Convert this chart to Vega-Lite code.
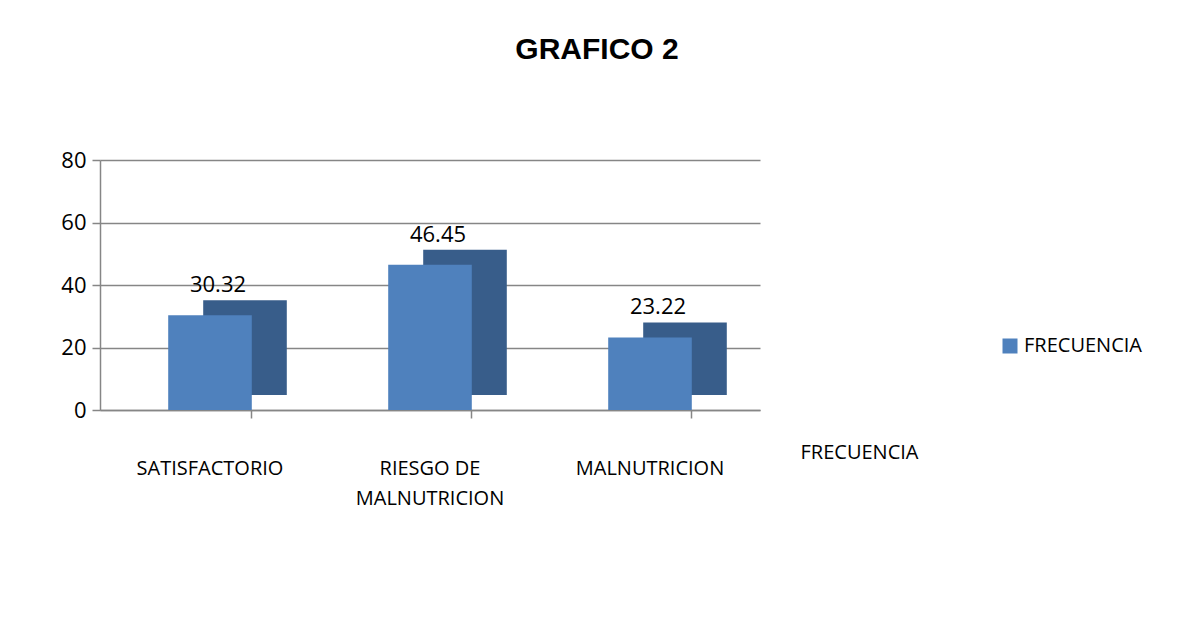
{
  "$schema": "https://vega.github.io/schema/vega-lite/v6.json",
  "autosize": "none",
  "width": 660,
  "height": 250,
  "padding": {"left": 100, "top": 160, "right": 424, "bottom": 211},
  "background": "white",
  "title": {
    "text": "GRAFICO 2",
    "font": "Liberation Sans",
    "fontSize": 30,
    "fontWeight": "bold",
    "color": "#000000",
    "anchor": "middle",
    "dx": 167,
    "offset": 84
  },
  "data": {
    "values": [
      {"categoria": "SATISFACTORIO", "serie": "FRECUENCIA", "valor": 30.32},
      {"categoria": "RIESGO DE MALNUTRICION", "serie": "FRECUENCIA", "valor": 46.45},
      {"categoria": "MALNUTRICION", "serie": "FRECUENCIA", "valor": 23.22}
    ]
  },
  "encoding": {
    "x": {
      "field": "categoria",
      "type": "nominal",
      "sort": null,
      "scale": {"paddingInner": 0.62, "paddingOuter": 0.31},
      "axis": {
        "title": null,
        "labelAngle": 0,
        "labelFont": "Open Sans",
        "labelFontSize": 20,
        "labelColor": "#000000",
        "labelPadding": 40,
        "labelExpr": "datum.label == 'RIESGO DE MALNUTRICION' ? ['RIESGO DE', 'MALNUTRICION'] : datum.label",
        "labelLineHeight": 30,
        "domainColor": "#868686",
        "domainWidth": 1.5,
        "tickColor": "#868686",
        "tickWidth": 1.5,
        "tickSize": 8,
        "bandPosition": 1,
        "grid": false
      }
    }
  },
  "layer": [
    {
      "mark": {"type": "bar", "color": "#385D8A", "xOffset": 35, "yOffset": -15},
      "encoding": {
        "y": {
          "field": "valor",
          "type": "quantitative",
          "scale": {"domain": [0, 80]},
          "axis": {
            "title": null,
            "values": [0, 20, 40, 60, 80],
            "labelFont": "Open Sans",
            "labelFontSize": 22,
            "labelColor": "#000000",
            "labelPadding": 6,
            "domainColor": "#868686",
            "domainWidth": 1.5,
            "tickColor": "#868686",
            "tickWidth": 1.5,
            "tickSize": 8,
            "gridColor": "#868686",
            "gridWidth": 1.5
          }
        }
      }
    },
    {
      "mark": {"type": "bar"},
      "encoding": {
        "y": {"field": "valor", "type": "quantitative", "scale": {"domain": [0, 80]}, "axis": null},
        "color": {
          "field": "serie",
          "type": "nominal",
          "scale": {"range": ["#4F81BD"]},
          "legend": {
            "title": null,
            "orient": "none",
            "legendX": 900,
            "legendY": 176,
            "symbolType": "square",
            "symbolSize": 225,
            "symbolStrokeWidth": 0,
            "labelFont": "Open Sans",
            "labelFontSize": 20,
            "labelColor": "#000000"
          }
        }
      }
    },
    {
      "mark": {"type": "text", "baseline": "bottom", "dy": -18, "dx": 8, "font": "Open Sans", "fontSize": 22, "color": "#000000"},
      "encoding": {
        "y": {
          "field": "valor",
          "type": "quantitative",
          "scale": {"domain": [0, 80]},
          "axis": {
            "orient": "right",
            "title": "FRECUENCIA",
            "titleAngle": 0,
            "titleAlign": "left",
            "titleBaseline": "middle",
            "titleX": 40,
            "titleY": 292,
            "titleFont": "Open Sans",
            "titleFontSize": 20,
            "titleFontWeight": "normal",
            "titleColor": "#000000",
            "labels": false,
            "ticks": false,
            "domain": false,
            "grid": false
          }
        },
        "text": {"field": "valor", "type": "quantitative", "format": ".2f"}
      }
    }
  ],
  "resolve": {"scale": {"y": "independent"}},
  "config": {"view": {"stroke": null}}
}
